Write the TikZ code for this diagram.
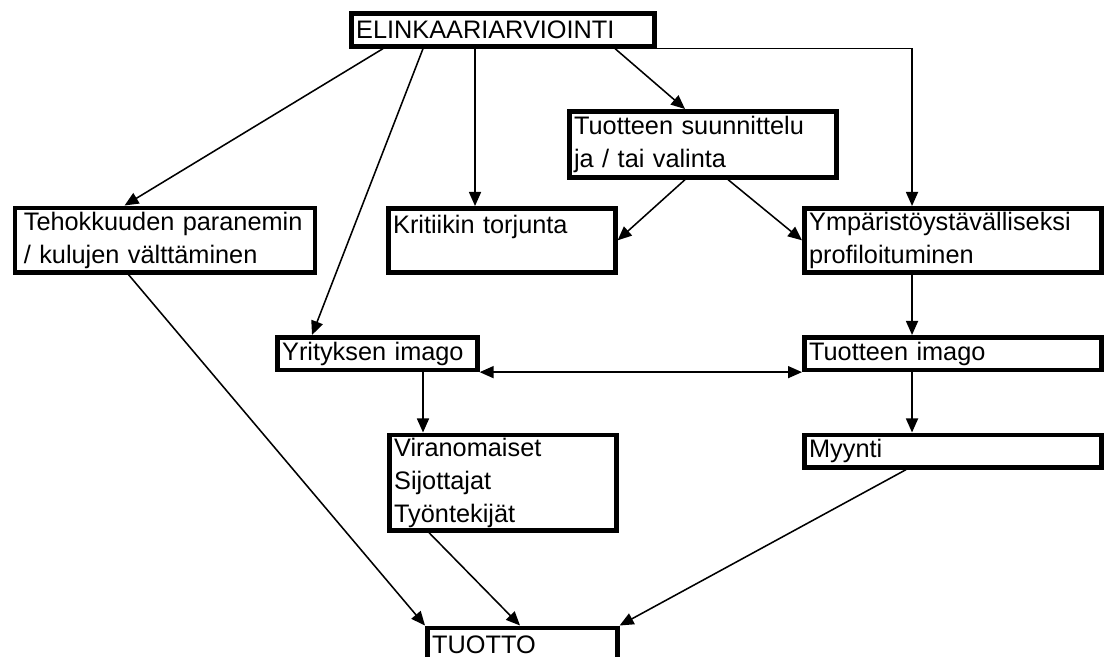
\documentclass[tikz,border=0pt]{standalone}
\usepackage{fontspec}
\setmainfont{Liberation Sans}
\usetikzlibrary{arrows.meta}
\tikzset{
  box/.style={draw,line width=3.3pt,anchor=north west,align=left,
    inner xsep=0.12cm,inner ysep=1pt,
    font=\fontsize{18pt}{23.4pt}\selectfont},
  boxsize/.style 2 args={text width=#1*0.025cm-0.24cm,minimum height=#2*0.025cm},
  link/.style={line width=1.1pt,-{Triangle[length=0.35cm,width=0.3cm]}},
  both/.style={line width=1.1pt,{Triangle[length=0.35cm,width=0.3cm]}-{Triangle[length=0.35cm,width=0.3cm]}}
}

\begin{document}
\begin{tikzpicture}[x=0.025cm,y=-0.025cm]
\useasboundingbox (0,0) rectangle (1105,657);

% boxes
\node[box,boxsize={303}{32.5}] (top) at (349,11.5) {ELINKAARIARVIOINTI};
\node[box,boxsize={300}{64.5}] (teho) at (12.5,205.5) {\hspace{3pt}Tehokkuuden paranemin\\\hspace{3pt}/ kulujen välttäminen};
\node[box,boxsize={227}{64}] (krit) at (386,206) {Kritiikin torjunta\\\mbox{}};
\node[box,boxsize={267}{66}] (suun) at (567,109) {Tuotteen suunnittelu\\ja / tai valinta};
\node[box,boxsize={297}{64}] (ymp) at (802,206) {Ympäristöystävälliseksi\\profiloituminen};
\node[box,boxsize={200}{32.5}] (yimago) at (275,335) {Yrityksen imago};
\node[box,boxsize={297}{32.5}] (timago) at (802,335) {Tuotteen imago};
\node[box,boxsize={227}{95.5}] (viran) at (387,432.5) {Viranomaiset\\Sijottajat\\Työntekijät};
\node[box,boxsize={297}{32.5}] (myynti) at (802,432.5) {Myynti};
\node[box,boxsize={190}{34}] (tuotto) at (425,625.5) {TUOTTO};

% connectors
\draw[link] ([xshift=0.85cm]top.south west) -- ([xshift=2.8cm]teho.north west);
\draw[link] ([xshift=1.85cm]top.south west) -- ([xshift=0.925cm]yimago.north west);
\draw[link] ([xshift=2.225cm]krit.north west |- top.south) -- ([xshift=2.225cm]krit.north west);
\draw[link] ([xshift=6.65cm]top.south west) -- ([xshift=2.95cm]suun.north west);
\draw[link] (top.south east) -| ([xshift=2.75cm]ymp.north west);
\draw[link] ([xshift=2.95cm]suun.south west) -- (krit.east);
\draw[link] ([xshift=4.025cm]suun.south west) -- (ymp.west);
\draw[link] ([xshift=2.75cm]ymp.south west) -- ([xshift=2.75cm]timago.north west);
\draw[both] (yimago.south east) -- (timago.south west);
\draw[link] ([xshift=0.9cm]viran.north west |- yimago.south) -- ([xshift=0.9cm]viran.north west);
\draw[link] ([xshift=2.75cm]timago.south west) -- ([xshift=2.75cm]myynti.north west);
\draw[link] ([xshift=2.9cm]teho.south west) -- (tuotto.north west);
\draw[link] ([xshift=1.05cm]viran.south west) -- ([xshift=2.375cm]tuotto.north west);
\draw[link] ([xshift=2.6cm]myynti.south west) -- (tuotto.north east);
\end{tikzpicture}
\end{document}
